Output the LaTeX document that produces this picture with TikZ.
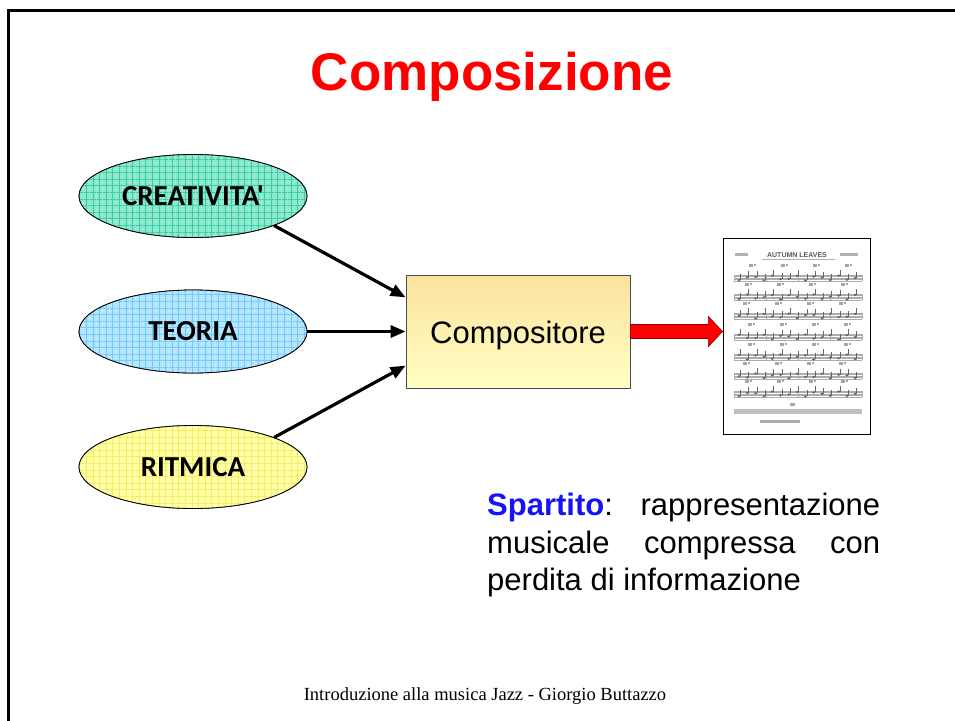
\documentclass[tikz,border=0pt]{standalone}
\usepackage{fontspec}
\setmainfont{Liberation Sans}
\newfontfamily\carlito{Carlito}
\newfontfamily\timesf{Liberation Serif}
\usetikzlibrary{arrows.meta,shapes.geometric,calc}
\definecolor{creafill}{RGB}{140,232,206}
\definecolor{crealine}{RGB}{60,205,165}
\definecolor{teofill}{RGB}{182,228,255}
\definecolor{teoline}{RGB}{110,205,250}
\definecolor{ritfill}{RGB}{255,255,165}
\definecolor{ritline}{RGB}{245,235,100}
\definecolor{boxtop}{RGB}{251,226,158}
\definecolor{boxbot}{RGB}{255,255,195}
\definecolor{spblue}{RGB}{20,20,245}
\tikzset{
  inputell/.style={ellipse, draw=black, line width=0.8pt, minimum width=228pt, minimum height=83pt, inner sep=0pt},
  elltext/.style={font=\carlito\bfseries\fontsize{29}{32}\selectfont, inner sep=0pt},
  inarrow/.style={line width=3.2pt, -{Triangle[length=15pt,width=12pt]}},
  staff/.style={gray!65, line width=0.45pt},
  notecol/.style={black!60}
}
\newcommand{\gridfill}[3]{%
  \begin{scope}
    \clip (#1.center) ellipse [x radius=114pt, y radius=41.5pt];
    \fill[#2] ($(#1.center)+(-120,-50)$) rectangle ($(#1.center)+(120,50)$);
    \foreach \gx in {-120,-113.4,...,120}
      \draw[#3, line width=0.55pt] ($(#1.center)+(\gx,-50)$) -- ($(#1.center)+(\gx,50)$);
    \foreach \gy in {-50,-43.4,...,50}
      \draw[#3, line width=0.55pt] ($(#1.center)+(-120,\gy)$) -- ($(#1.center)+(120,\gy)$);
    \foreach \gx in {-116.7,-110.1,...,120}
      \draw[white, opacity=0.4, line width=0.5pt, dash pattern=on 0.8pt off 2.5pt] ($(#1.center)+(\gx,-50)$) -- ($(#1.center)+(\gx,50)$);
  \end{scope}}
\begin{document}
\begin{tikzpicture}[x=1pt,y=-1pt]
\useasboundingbox (0,0) rectangle (955,720);
\fill[white] (0,0) rectangle (955,720);
% slide border
\draw[line width=3pt] (8.5,721) -- (8.5,10.5) -- (956,10.5);

% title
\node[anchor=base, text=red, font=\bfseries\fontsize{53}{60}\selectfont, inner sep=0pt] (title) at (492,90) {Composizione};

% input ellipses
\node[inputell] (crea) at (193,196) {};
\node[inputell] (teor) at (193,331.5) {};
\node[inputell] (ritm) at (193,467) {};
\gridfill{crea}{creafill}{crealine}
\gridfill{teor}{teofill}{teoline}
\gridfill{ritm}{ritfill}{ritline}
\draw[line width=0.8pt] (crea.center) ellipse [x radius=114pt, y radius=41.5pt];
\draw[line width=0.8pt] (teor.center) ellipse [x radius=114pt, y radius=41.5pt];
\draw[line width=0.8pt] (ritm.center) ellipse [x radius=114pt, y radius=41.5pt];
\node[elltext] (creat) at (crea.center) {CREATIVITA'};
\node[elltext] (teort) at (teor.center) {TEORIA};
\node[elltext] (ritmt) at (ritm.center) {RITMICA};

% composer box
\node[draw=black!70, line width=0.8pt, minimum width=224pt, minimum height=113pt, top color=boxtop, bottom color=boxbot, inner sep=0pt] (box) at (518,331.5) {};
\node[anchor=base, font=\fontsize{31}{36}\selectfont, inner sep=0pt] (boxt) at (518,343) {Compositore};

\coordinate (in1) at ($(box.north west)!0.2!(box.south west)$);
\coordinate (in3) at ($(box.north west)!0.8!(box.south west)$);
\draw[inarrow] (crea.-20) -- (in1);
\draw[inarrow] (teor.east) -- (box.west);
\draw[inarrow] (ritm.20) -- (in3);

% sheet music
\node[draw=black, line width=0.8pt, fill=white, minimum width=147pt, minimum height=196pt, inner sep=0pt] (sheet) at (796.5,336) {};
\node[text=black!65, font=\bfseries\fontsize{7}{8}\selectfont, inner sep=0pt] (sheettitle) at (797,255) {AUTUMN LEAVES};
\draw[gray!60, line width=0.6pt] (762,259.5) -- (835,259.5);
\fill[gray!60] (735,253) rectangle (748,256);
\fill[gray!60] (840,253) rectangle (858,256);
\foreach \sy [count=\rr] in {278,297,316,337,357,376,394} {
  \foreach \k in {0,...,4}
    \draw[staff] (734,\sy-3+1.5*\k) -- (862,\sy-3+1.5*\k);
  \foreach \j in {0,...,4}
    \draw[staff, line width=0.6pt] (734+32*\j,\sy-3) -- (734+32*\j,\sy+3);
  \draw[staff, line width=0.6pt] (862,\sy-3) -- (862,\sy+3);
  \foreach \i in {0,...,14} {
    \pgfmathsetmacro\nx{739+8.3*\i}
    \pgfmathsetmacro\ny{\sy+2.5*sin(\i*137+\rr*61)}
    \fill[notecol] (\nx,\ny) ellipse [x radius=1.6pt, y radius=1.2pt];
    \draw[notecol, line width=0.5pt] (\nx+1.4,\ny) -- (\nx+1.4,\ny-6);
  }
  \pgfmathsetmacro\cx{3+3*sin(\rr*100)}
  \foreach \i in {0,1,2,3} {
    \fill[gray!70] (743+32*\i+\cx,\sy-11) rectangle +(4,-3);
    \fill[gray!70] (748+32*\i+\cx,\sy-12) rectangle +(2,-2);
  }
}
\fill[gray!50] (734,409) rectangle (862,414);
\fill[gray!65] (760,420) rectangle (800,422.5);
\fill[gray!65] (790,403) rectangle (795,406);

% red output arrow
\coordinate (tip) at (sheet.west |- box.east);
\draw[red!55!black, line width=0.6pt, fill=red]
  ($(box.east)+(0,-7)$) -- ($(box.east)+(78,-7)$) -- ($(box.east)+(78,-15)$) --
  (tip) -- ($(box.east)+(78,15)$) -- ($(box.east)+(78,7)$) -- ($(box.east)+(0,7)$) -- cycle;

% description
\node[anchor=north west, inner sep=0pt, font=\fontsize{31}{37.5}\selectfont, align=left] (desc) at (487,493) {%
  \hbox to 393pt{\textcolor{spblue}{\bfseries Spartito}:\hfill rappresentazione}\\
  \hbox to 393pt{musicale\hfill compressa\hfill con}\\
  \hbox{perdita di informazione}};

% footer
\node[anchor=base, font=\timesf\fontsize{18.5}{22}\selectfont, inner sep=0pt] (foot) at (485,700) {Introduzione alla musica Jazz - Giorgio Buttazzo};
\end{tikzpicture}
\end{document}
